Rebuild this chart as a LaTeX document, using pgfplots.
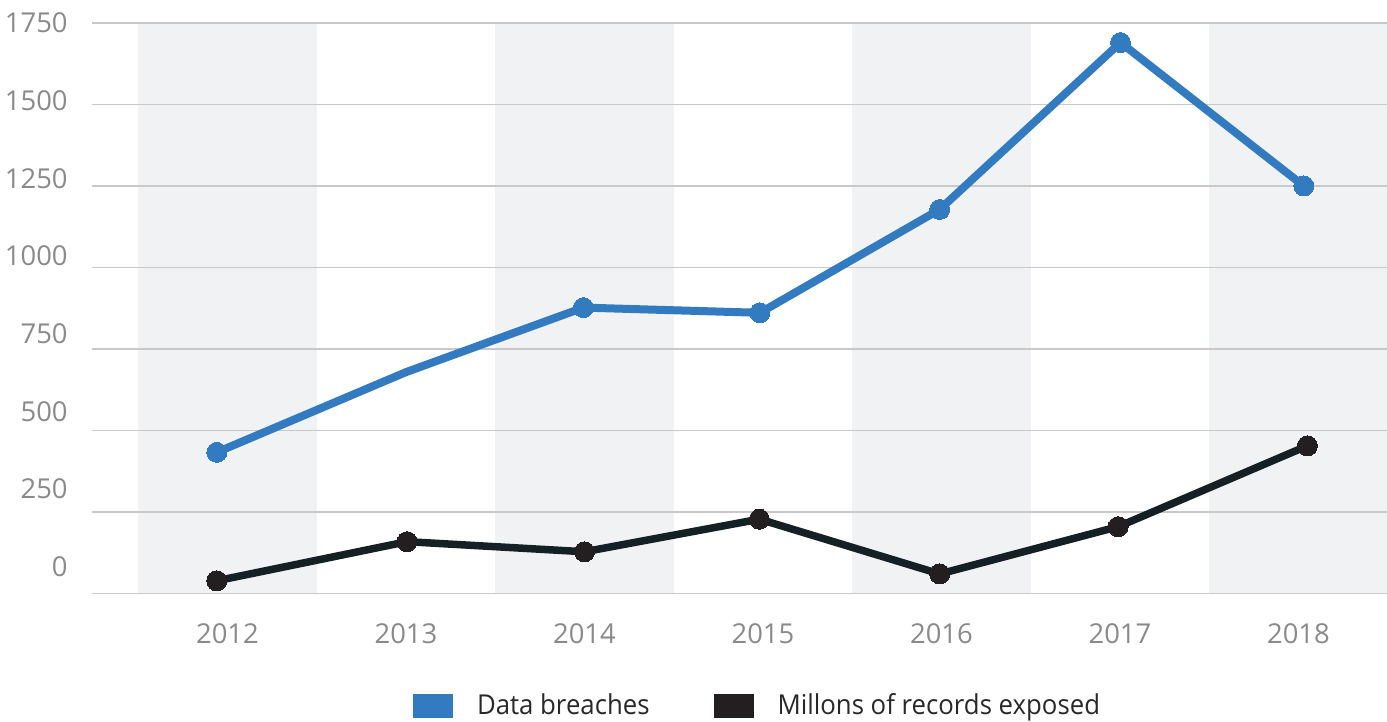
\documentclass[border=0pt]{standalone}
\usepackage{fontspec}
\setmainfont{Open Sans}
\newfontfamily\legfont[FakeStretch=0.94]{Open Sans}
\usepackage{pgfplots}
\pgfplotsset{compat=1.18}
\definecolor{dblue}{RGB}{51,123,193}
\definecolor{dline}{RGB}{21,32,36}
\definecolor{dmark}{RGB}{35,31,32}
\definecolor{band}{RGB}{241,242,244}
\definecolor{gridc}{RGB}{201,201,201}
\definecolor{tickc}{RGB}{138,138,140}
\definecolor{legc}{RGB}{40,40,40}
\begin{document}
\begin{tikzpicture}
\begin{axis}[
  at={(0,0)}, anchor=south west,
  scale only axis, width=647.5pt, height=285.25pt,
  xmin=-0.759, xmax=6.496, ymin=0, ymax=1750,
  axis line style={draw=none},
  major tick length=0pt,
  ytick={0,250,...,1750}, yticklabels={},
  ymajorgrids, grid style={color=gridc, line width=0.75pt},
  xtick={0,1,2,3,4,5,6},
  xticklabels={2012,2013,2014,2015,2016,2017,2018},
  xticklabel style={anchor=north, inner sep=0pt, yshift=-15pt, text=tickc, font=\fontsize{13.7}{16}\selectfont},
  clip=false, set layers,
  legend columns=2,
  legend style={at={(0.2479,-0.197)}, anchor=west, draw=none, fill=none, inner sep=0pt, outer sep=0pt,
    font=\legfont\fontsize{13.7}{16}\selectfont, text=legc,
    nodes={inner sep=0pt},
    /tikz/every odd column/.append style={column sep=12pt},
    /tikz/every even column/.append style={column sep=32pt}},
]
\addplot[fill=band, draw=none, on layer=axis background, forget plot] coordinates {(-0.5,0) (0.5,0) (0.5,1750) (-0.5,1750)} -- cycle;
\addplot[fill=band, draw=none, on layer=axis background, forget plot] coordinates {(1.5,0) (2.5,0) (2.5,1750) (1.5,1750)} -- cycle;
\addplot[fill=band, draw=none, on layer=axis background, forget plot] coordinates {(3.5,0) (4.5,0) (4.5,1750) (3.5,1750)} -- cycle;
\addplot[fill=band, draw=none, on layer=axis background, forget plot] coordinates {(5.5,0) (6.496,0) (6.496,1750) (5.5,1750)} -- cycle;

\addplot[color=dblue, line width=4pt, mark=*, mark size=5pt, mark options={solid, line width=0pt}, mark indices={1,3,4,5,6,7},
  legend image code/.code={\fill[dblue, draw=none] (0pt,-6pt) rectangle (20pt,6pt);}]
  coordinates {(-0.06,433) (1.0,679) (1.994,877) (2.983,861) (3.99,1178) (5.003,1690) (6.03,1250)};
\addlegendentry{Data breaches}
\addplot[color=dline, line width=3.75pt, mark=*, mark size=5pt, mark options={solid, line width=0pt, fill=dmark, draw=dmark},
  legend image code/.code={\fill[dmark, draw=none] (0pt,-6pt) rectangle (20pt,6pt);}]
  coordinates {(-0.06,39) (1.006,159) (2.0,128) (2.98,228) (3.99,60) (4.99,205) (6.05,453)};
\addlegendentry{Millons of records exposed}

\begin{scope}[every node/.style={anchor=east, inner sep=0pt, xshift=-12pt, text=tickc, font=\fontsize{13.7}{16}\selectfont}]
\node[yshift=0pt]    at (axis cs:-0.759,1750) {1750};
\node[yshift=1.9pt]  at (axis cs:-0.759,1500) {1500};
\node[yshift=3.8pt]  at (axis cs:-0.759,1250) {1250};
\node[yshift=5.7pt]  at (axis cs:-0.759,1000) {1000};
\node[yshift=7.6pt]  at (axis cs:-0.759,750) {750};
\node[yshift=9.5pt]  at (axis cs:-0.759,500) {500};
\node[yshift=11.4pt] at (axis cs:-0.759,250) {250};
\node[yshift=13.3pt] at (axis cs:-0.759,0) {0};
\end{scope}
\end{axis}
\pgfresetboundingbox
\path[use as bounding box] (-46pt,-64.25pt) rectangle (647.5pt,296.75pt);
\end{tikzpicture}
\end{document}
